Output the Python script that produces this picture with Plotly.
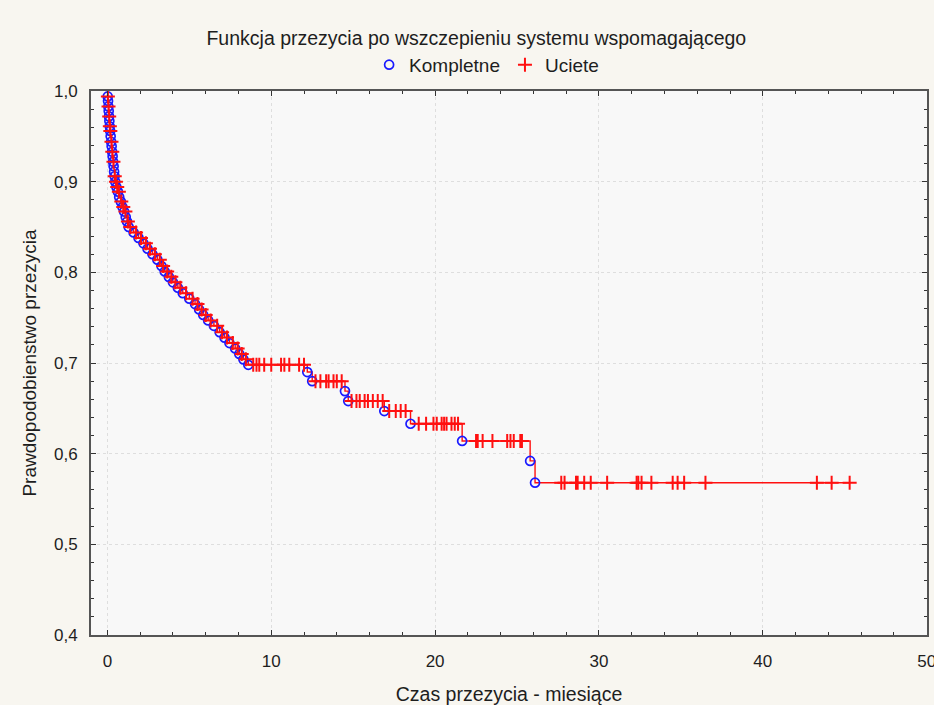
import numpy as np
import plotly.graph_objects as go

# Kaplan-Meier estimate: times of complete observations (months) and survival after each
event_times = [0.02, 0.04, 0.06, 0.08, 0.10, 0.12, 0.14, 0.17, 0.20,
               0.23, 0.26, 0.29, 0.32, 0.35, 0.38, 0.41, 0.44, 0.48,
               0.55, 0.64, 0.72, 0.82, 0.92, 1.02, 1.12, 1.20, 1.30,
               1.60, 1.90, 2.20, 2.45, 2.75, 3.05, 3.30, 3.50, 3.75, 4.00,
               4.30, 4.60, 5.00, 5.35, 5.60, 5.85, 6.15, 6.50, 6.85, 7.15,
               7.45, 7.80, 8.05, 8.30, 8.60,
               12.2, 12.5, 14.5, 14.7, 16.9, 18.5, 21.65, 25.8, 26.1]
event_surv = [0.994, 0.989, 0.983, 0.978, 0.972, 0.967, 0.961, 0.956, 0.950,
              0.944, 0.939, 0.933, 0.928, 0.922, 0.917, 0.911, 0.906, 0.900,
              0.894, 0.889, 0.883, 0.878, 0.872, 0.867, 0.861, 0.856, 0.850,
              0.844, 0.838, 0.832, 0.826, 0.820, 0.814, 0.807, 0.801, 0.795, 0.789,
              0.783, 0.777, 0.771, 0.765, 0.759, 0.753, 0.747, 0.741, 0.734, 0.728,
              0.722, 0.716, 0.710, 0.704, 0.698,
              0.690, 0.680, 0.669, 0.658, 0.647, 0.633, 0.614, 0.592, 0.568]

# Censored observations (months)
censored_times = [0.03, 0.07, 0.11, 0.15, 0.18, 0.25, 0.30, 0.37, 0.45, 0.52,
                  0.60, 0.70, 0.85, 0.97, 1.10, 1.25, 1.40,
                  1.75, 2.05, 2.35, 2.60, 2.90, 3.20, 3.40, 3.65, 3.90, 4.15,
                  4.45, 4.80, 5.20, 5.50, 5.75, 6.00, 6.30, 6.70, 7.00, 7.30,
                  7.65, 7.95, 8.20, 8.45,
                  8.9, 9.1, 9.27, 9.57, 10.0, 10.6, 10.8, 11.1, 11.7, 12.0,
                  12.7, 13.0, 13.35, 13.5, 13.8, 14.0, 14.3,
                  14.9, 15.2, 15.4, 15.7, 15.9, 16.2, 16.5, 16.8,
                  17.2, 17.6, 17.9, 18.2,
                  19.0, 19.45, 19.9, 20.1, 20.4, 20.55, 20.7, 21.0, 21.2, 21.4,
                  22.5, 22.6, 22.9, 23.5, 24.4, 24.6, 24.8, 25.2, 25.3,
                  27.7, 27.9, 28.6, 28.7, 29.1, 29.5, 30.5, 32.3, 32.4, 32.6,
                  33.2, 34.5, 34.8, 35.2, 36.5, 43.3, 44.2, 45.3]

x_ticks = [0, 10, 20, 30, 40, 50]
y_ticks = [0.4, 0.5, 0.6, 0.7, 0.8, 0.9, 1.0]

ev_t = np.array(event_times)
ev_s = np.array(event_surv)
ce_t = np.array(censored_times)

# survival level at each censored time (value of the step function)
idx = np.searchsorted(ev_t, ce_t, side="right") - 1
ce_s = np.where(idx >= 0, ev_s[np.clip(idx, 0, None)], 1.0)

# step line from t=0 to the last observation
line_x = np.concatenate([[0.0], ev_t, [ce_t.max()]])
line_y = np.concatenate([[1.0], ev_s, [ev_s[-1]]])

RED = "#ff1010"
BLUE = "#1a1aff"
FONT = "Liberation Sans, Arial, sans-serif"
TXT = "#1e1e1e"

fig = go.Figure()
fig.add_trace(go.Scatter(x=line_x, y=line_y, mode="lines", line=dict(color=RED, width=1.4, shape="hv"),
                         showlegend=False, hoverinfo="skip"))
fig.add_trace(go.Scatter(x=ev_t, y=ev_s, mode="markers", name="Kompletne",
                         marker=dict(symbol="circle-open", size=9, color=BLUE, line=dict(width=1.7, color=BLUE))))
fig.add_trace(go.Scatter(x=ce_t, y=ce_s, mode="markers", name="Uciete",
                         marker=dict(symbol="cross-thin", size=10, color=RED, line=dict(width=2, color=RED))))

axis_common = dict(
    showline=True, linecolor="#555555", linewidth=2, mirror="allticks",
    ticks="inside", ticklen=5, tickwidth=1, tickcolor="#333333",
    showgrid=True, gridcolor="#dedede", griddash="dot", gridwidth=1,
    zeroline=False, automargin=False, ticklabeloverflow="allow",
    tickfont=dict(family=FONT, size=17, color=TXT),
)

fig.update_xaxes(range=[-1, 50.02], tickvals=x_ticks, ticklabelstandoff=10,
                 minor=dict(dtick=2, tick0=0, ticks="inside", ticklen=3, tickcolor="#333333", showgrid=False),
                 title=dict(text="Czas przezycia - miesiące", font=dict(family=FONT, size=19.5, color=TXT),
                            standoff=18),
                 **axis_common)
fig.update_yaxes(range=[0.4, 1.0], tickvals=y_ticks, tickformat=".1f", ticklabelstandoff=8,
                 minor=dict(dtick=0.02, tick0=0.4, ticks="inside", ticklen=3, tickcolor="#333333", showgrid=False),
                 title=dict(text="Prawdopodobienstwo przezycia", font=dict(family=FONT, size=19, color=TXT),
                            standoff=12),
                 **axis_common)

fig.update_layout(
    width=934, height=705,
    margin=dict(l=91, r=7, t=91, b=70),
    paper_bgcolor="#f8f6f0",
    plot_bgcolor="#f8f8f8",
    separators=", ",
    title=dict(text="Funkcja przezycia po wszczepieniu systemu wspomagającego",
               font=dict(family=FONT, size=19.5, color=TXT),
               x=0.51, xref="container", xanchor="center", y=0.946, yref="container", yanchor="middle"),
    legend=dict(orientation="h", x=0.521, xanchor="center", xref="container",
                y=0.935, yref="container", yanchor="top",
                font=dict(family=FONT, size=19, color=TXT),
                bgcolor="rgba(0,0,0,0)", itemwidth=30, tracegroupgap=0),
    showlegend=True,
)

fig.write_html("out.html")
